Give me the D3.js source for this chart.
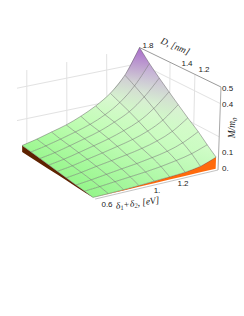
<!DOCTYPE html>
<html lang="en">
<head>
<meta charset="utf-8" />
<title>M/m0 surface</title>
<script src="https://d3js.org/d3.v7.min.js"></script>
<style>
    html, body { margin: 0; padding: 0; background: #fff; overflow: hidden; }
    text { font-family: "Liberation Sans", Arial, sans-serif; font-size: 8px; fill: #222; }
    text.title { font-family: "Liberation Serif", serif; font-style: italic; font-size: 9.5px; }
</style>
</head>
<body>
<div id="chart"></div>
<script>
    // grid of the surface
    const deltaGrid = [0.565, 0.675, 0.785, 0.895, 1.005, 1.116, 1.226, 1.336, 1.447];
    const diaGrid = [1.05, 1.11, 1.17, 1.25, 1.33, 1.41, 1.54, 1.67, 1.8];
    // M/m0, rows go with diaGrid, columns with deltaGrid
    const massValues = [
        [.001, .002, .004, .007, .012, .016, .022, .036, .070],
        [.006, .012, .020, .028, .036, .047, .062, .082, .115],
        [.010, .020, .032, .044, .055, .070, .088, .118, .165],
        [.015, .027, .043, .057, .072, .090, .115, .153, .215],
        [.020, .033, .052, .070, .090, .112, .143, .190, .265],
        [.025, .040, .060, .082, .105, .135, .172, .232, .315],
        [.030, .046, .068, .092, .118, .155, .200, .272, .370],
        [.035, .053, .075, .100, .128, .168, .225, .310, .430],
        [.040, .060, .085, .110, .145, .190, .250, .345, .500]
    ];
    const deltaTicks = [0.6, 1, 1.2];
    const deltaTickText = ["0.6", "1.", "1.2"];
    const diaTicks = [1.8, 1.4, 1.2];
    const massTicks = [0, 0.1, 0.4, 0.5];
    const massTickText = ["0.", "0.1", "0.4", "0.5"];
    const wallDelta = [0.6, 0.9, 1.2];
    const wallDia = [1.4, 1.2];
    const wallMass = [0.2, 0.4];

    const width = 244, height = 316;

    // box corners on the page
    const floorLeft = [17, 153], floorBack = [140, 127], floorFront = [89.8, 200.3], floorRight = [218, 170];
    const topLeft = [17, 72], topBack = [139.5, 47.5], topFront = [90, 114], topRight = [221, 87];

    const deltaScale = d3.scaleLinear().domain([0.52, 0.565, 1.447]).range([0, 0.042, 1]);
    const diaScale = d3.scaleLinear().domain([1.8, 1.4, 1.2, 1.05, 1.03]).range([0, 0.375, 0.68, 0.97, 1]);
    const massScale = d3.scaleLinear().domain([0, 0.5]).range([0, 1]);
    const lerp = d3.interpolateArray;

    function project(delta, dia, m) {
        const a = deltaScale(delta), b = diaScale(dia);
        const bottom = lerp(lerp(floorLeft, floorBack)(a), lerp(floorFront, floorRight)(a))(b);
        const top = lerp(lerp(topLeft, topBack)(a), lerp(topFront, topRight)(a))(b);
        return lerp(bottom, top)(massScale(m));
    }

    const massColor = d3.scaleLinear()
        .domain([0, 0.12, 0.25, 0.33, 0.42, 0.5])
        .range(["#92f588", "#aefc9e", "#dcf7d4", "#d2d2d4", "#c4aad8", "#aa6ccc"]);
    const lightScale = d3.scaleLinear().domain([0, 1]).range([0, 0.45]);
    const lightByMass = d3.scaleLinear().domain([0.12, 0.25]).range([1, 0]).clamp(true);

    function vertexColor(i, j) {
        const m = massValues[j][i];
        const fade = lightScale(deltaScale(deltaGrid[i])) * lightByMass(m);
        return d3.interpolateRgb(massColor(m), "#fff")(fade);
    }

    const svg = d3.select("#chart").append("svg")
        .attr("width", width).attr("height", height)
        .style("display", "block");
    const defs = svg.append("defs");
    const line = d3.line();

    function segment(a, b, color, w) {
        svg.append("path").attr("d", line([a, b])).attr("fill", "none")
            .attr("stroke", color).attr("stroke-width", w);
    }

    const deltaMin = deltaGrid[0], deltaMax = deltaGrid[8], diaMin = diaGrid[0], diaMax = diaGrid[8];
    const boxDeltaMin = 0.52, boxDiaMin = 1.03;

    // walls
    wallDelta.forEach(d => segment(project(d, diaMax, 0), project(d, diaMax, 0.5), "#e2e2e2", 1));
    wallDia.forEach(d => segment(project(deltaMax, d, 0), project(deltaMax, d, 0.5), "#e2e2e2", 1));
    wallMass.forEach(m => {
        segment(project(boxDeltaMin, diaMax, m), project(deltaMax, diaMax, m), "#e2e2e2", 1);
        segment(project(deltaMax, diaMax, m), project(deltaMax, boxDiaMin, m), "#e2e2e2", 1);
    });

    // box edges that carry the axes
    segment(project(deltaMin, boxDiaMin, 0), project(deltaMax, boxDiaMin, 0), "#c4c4c4", 1);
    segment(project(deltaMax, diaMax, 0.5), project(deltaMax, boxDiaMin, 0.5), "#9a9a9a", 1);
    segment(project(deltaMax, boxDiaMin, 0), project(deltaMax, boxDiaMin, 0.5), "#a8a8a8", 1);

    // side skirts
    const brownEdge = diaGrid.map((d, j) => project(deltaMin, d, massValues[j][0]));
    const brownBase = diaGrid.map(d => project(deltaMin, d, 0)).reverse();
    svg.append("path").attr("d", line(brownEdge.concat(brownBase)) + "Z").attr("fill", "#5e2200");
    const orangeEdge = deltaGrid.map((d, i) => project(d, diaMin, massValues[0][i]));
    const orangeBase = deltaGrid.map(d => project(d, diaMin, 0)).reverse();
    svg.append("path").attr("d", line(orangeEdge.concat(orangeBase)) + "Z").attr("fill", "#ff6a0c");

    // surface, far cells first
    const cells = [];
    for (let j = 0; j < diaGrid.length - 1; j++) {
        for (let i = 0; i < deltaGrid.length - 1; i++) cells.push({ i, j });
    }
    cells.sort((p, q) => (q.i - q.j) - (p.i - p.j));

    svg.selectAll(".cell").data(cells).enter().append("path")
        .attr("class", "cell")
        .attr("d", c => line([[c.i, c.j], [c.i + 1, c.j], [c.i + 1, c.j + 1], [c.i, c.j + 1]]
            .map(k => project(deltaGrid[k[0]], diaGrid[k[1]], massValues[k[1]][k[0]]))) + "Z")
        .attr("fill", (c, n) => {
            const low = project(deltaGrid[c.i], diaGrid[c.j], massValues[c.j][c.i]);
            const high = project(deltaGrid[c.i + 1], diaGrid[c.j + 1], massValues[c.j + 1][c.i + 1]);
            const g = defs.append("linearGradient").attr("id", "cell" + n)
                .attr("gradientUnits", "userSpaceOnUse")
                .attr("x1", low[0]).attr("y1", low[1]).attr("x2", high[0]).attr("y2", high[1]);
            g.append("stop").attr("offset", 0).attr("stop-color", vertexColor(c.i, c.j));
            g.append("stop").attr("offset", 1).attr("stop-color", vertexColor(c.i + 1, c.j + 1));
            return "url(#cell" + n + ")";
        });

    // mesh
    const meshColor = "#5a5a5a";
    const curve = d3.line().curve(d3.curveCatmullRom);
    diaGrid.forEach((d, j) => {
        svg.append("path").attr("d", curve(deltaGrid.map((x, i) => project(x, d, massValues[j][i]))))
            .attr("fill", "none").attr("stroke", meshColor).attr("stroke-opacity", 0.6).attr("stroke-width", 0.75);
    });
    deltaGrid.forEach((x, i) => {
        svg.append("path").attr("d", curve(diaGrid.map((d, j) => project(x, d, massValues[j][i]))))
            .attr("fill", "none").attr("stroke", meshColor).attr("stroke-opacity", 0.6).attr("stroke-width", 0.75);
    });

    // tick labels
    const deltaLabelX = d3.scaleLinear().domain([0.6, 1, 1.2]).range([107, 157, 183]);
    const deltaLabelY = d3.scaleLinear().domain([0.6, 1, 1.2]).range([207, 193, 186]);
    deltaTicks.forEach((d, k) => {
        svg.append("text").attr("x", deltaLabelX(d)).attr("y", deltaLabelY(d))
            .attr("text-anchor", "middle").text(deltaTickText[k]);
    });
    const diaLabelX = d3.scaleLinear().domain([1.8, 1.4, 1.2]).range([148, 187, 204]);
    const diaLabelY = d3.scaleLinear().domain([1.8, 1.4, 1.2]).range([48, 66, 72]);
    diaTicks.forEach(d => {
        svg.append("text").attr("x", diaLabelX(d)).attr("y", diaLabelY(d))
            .attr("text-anchor", "middle").text(d3.format(".1f")(d));
    });
    const massLabelY = d3.scaleLinear().domain([0, 0.5]).range([171, 91]);
    massTicks.forEach((m, k) => {
        svg.append("text").attr("x", 222).attr("y", massLabelY(m))
            .attr("text-anchor", "start").text(massTickText[k]);
    });

    // axis titles
    svg.append("text").attr("class", "title")
        .attr("transform", "translate(174,49) rotate(23)").attr("text-anchor", "middle")
        .text("D, [nm]");
    svg.append("text").attr("class", "title")
        .attr("transform", "translate(235,128) rotate(-90)").attr("text-anchor", "middle")
        .html('M/m<tspan font-size="6.5" dy="1.5">0</tspan>');
    svg.append("text").attr("class", "title")
        .attr("transform", "translate(138,206) rotate(-8)").attr("text-anchor", "middle")
        .html('δ<tspan font-size="6.5" dy="1.5">1</tspan><tspan dy="-1.5">+δ</tspan><tspan font-size="6.5" dy="1.5">2</tspan><tspan dy="-1.5">, [eV]</tspan>');
</script>
</body>
</html>
